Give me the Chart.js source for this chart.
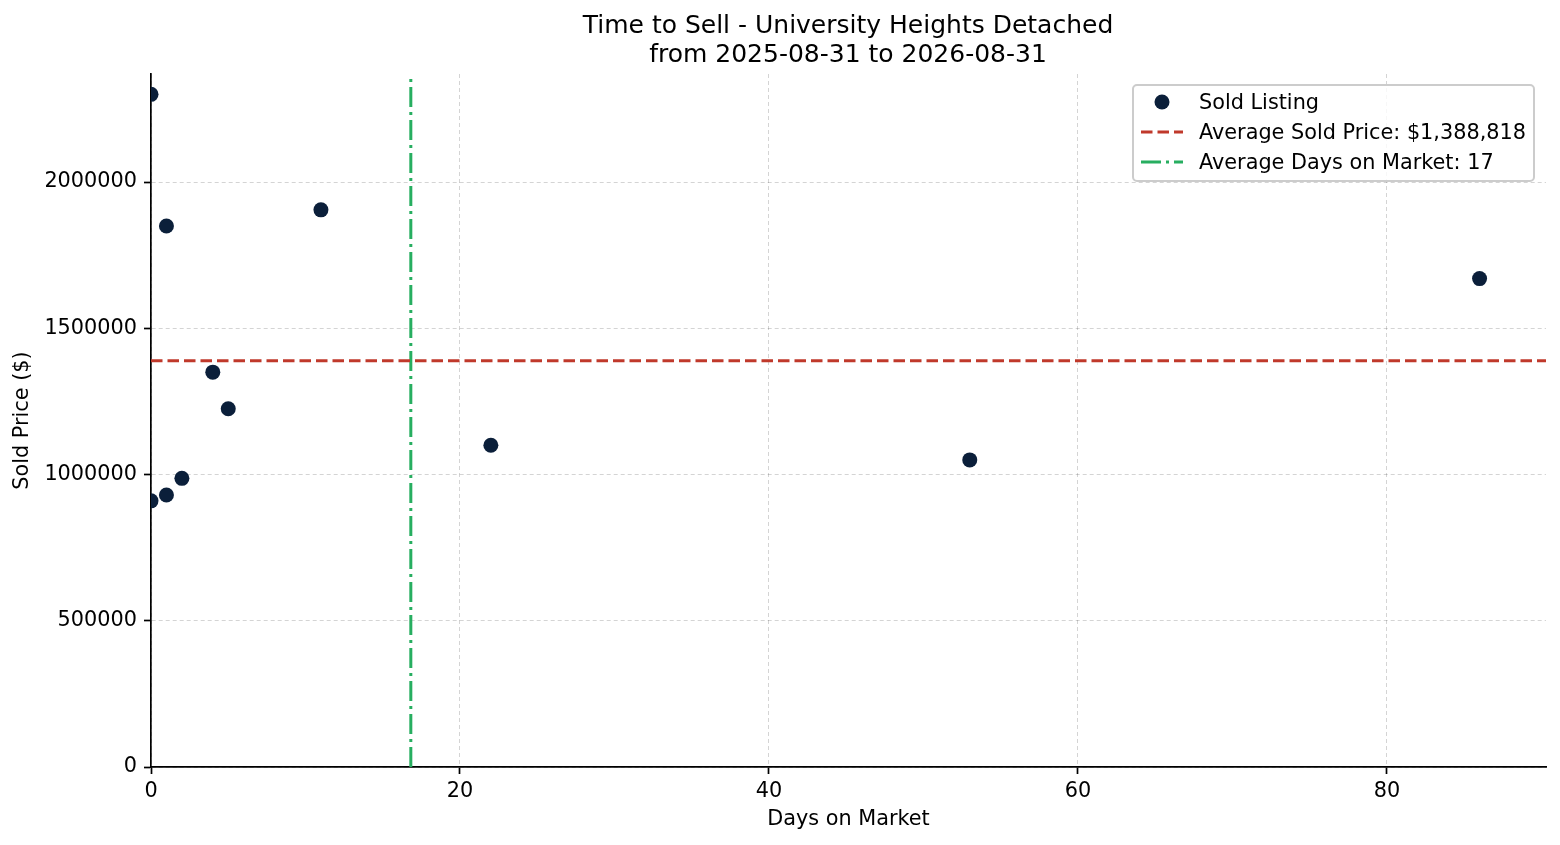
<!DOCTYPE html>
<html>
<head>
<meta charset="utf-8">
<script src="https://cdn.jsdelivr.net/npm/chart.js@4/dist/chart.umd.min.js"></script>
<style>
  html, body { margin: 0; padding: 0; background: #fff; }
  canvas { display: block; }
</style>
</head>
<body>
<canvas id="dom-chart" width="1560" height="845"></canvas>
<script>
// Days on market vs sold price, one entry per sold listing
const daysOnMarket = [0, 1, 11, 86, 4, 5, 22, 53, 2, 1, 0];
const soldPrices = [2300000, 1850000, 1905000, 1670000, 1350000, 1225000, 1100000, 1050000, 987000, 930000, 910000];

const titleLines = ['Time to Sell - University Heights Detached', 'from 2025-08-31 to 2026-08-31'];
const xTicks = [0, 20, 40, 60, 80];
const yTicks = [0, 500000, 1000000, 1500000, 2000000];
const xMax = 90.3;
const yMax = 2369500;

const avgPrice = soldPrices.reduce((a, b) => a + b, 0) / soldPrices.length;
const avgDays = daysOnMarket.reduce((a, b) => a + b, 0) / daysOnMarket.length;

const legendLabels = [
    'Sold Listing',
    'Average Sold Price: $' + Math.round(avgPrice).toLocaleString('en-US'),
    'Average Days on Market: ' + Math.round(avgDays)
];

const NAVY = '#0b1f3a';
const RED = '#c0392b';
const GREEN = '#27ae60';
const FONT = "'DejaVu Sans', sans-serif";

// title + legend drawn by hand so they sit where matplotlib put them
const decorations = {
    id: 'decorations',
    afterDraw(chart) {
        const c = chart.ctx;
        c.save();
        c.fillStyle = '#000';
        c.textAlign = 'center';
        c.textBaseline = 'middle';
        c.font = '25px ' + FONT;
        c.fillText(titleLines[0], 848, 26);
        c.fillText(titleLines[1], 848, 55);

        // legend box
        const bx = 1133, by = 85, bw = 401, bh = 96;
        c.beginPath();
        c.roundRect(bx, by, bw, bh, 4);
        c.fillStyle = 'rgba(255,255,255,0.8)';
        c.fill();
        c.lineWidth = 2;
        c.strokeStyle = '#cccccc';
        c.stroke();

        const rows = [102, 132, 162];
        // marker
        c.beginPath();
        c.arc(1162, rows[0], 7.5, 0, Math.PI * 2);
        c.fillStyle = NAVY;
        c.fill();
        // dashed red
        c.lineWidth = 3;
        c.strokeStyle = RED;
        c.setLineDash([11.5, 5]);
        c.beginPath();
        c.moveTo(1141, rows[1]);
        c.lineTo(1183, rows[1]);
        c.stroke();
        // dash-dot green
        c.strokeStyle = GREEN;
        c.setLineDash([20, 5, 3, 5]);
        c.beginPath();
        c.moveTo(1141, rows[2]);
        c.lineTo(1183, rows[2]);
        c.stroke();
        c.setLineDash([]);

        c.fillStyle = '#000';
        c.textAlign = 'left';
        c.font = '20.8px ' + FONT;
        legendLabels.forEach((t, i) => c.fillText(t, 1199, rows[i] + 2));
        c.restore();
    }
};

const gridOpts = {
    color: 'rgba(0,0,0,0.17)',
    lineWidth: 1,
    tickColor: '#000',
    tickLength: 7,
    tickWidth: 1.7,
    tickBorderDash: []
};

const ctx = document.getElementById('dom-chart').getContext('2d');
new Chart(ctx, {
    type: 'scatter',
    data: {
        datasets: [
            {
                label: legendLabels[0],
                data: daysOnMarket.map((d, i) => ({ x: d, y: soldPrices[i] })),
                backgroundColor: NAVY,
                borderColor: NAVY,
                pointRadius: 7.5,
                pointHoverRadius: 7.5,
                borderWidth: 0,
                clip: 0,
                order: 0
            },
            {
                label: legendLabels[1],
                type: 'line',
                data: [{ x: 0, y: avgPrice }, { x: xMax, y: avgPrice }],
                borderColor: RED,
                borderWidth: 3,
                borderDash: [11.5, 5],
                pointRadius: 0,
                order: 1
            },
            {
                label: legendLabels[2],
                type: 'line',
                data: [{ x: avgDays, y: 0 }, { x: avgDays, y: yMax }],
                borderColor: GREEN,
                borderWidth: 3,
                borderDash: [20, 5, 3, 5],
                pointRadius: 0,
                order: 1
            }
        ]
    },
    options: {
        responsive: false,
        animation: false,
        devicePixelRatio: 1,
        layout: { padding: { top: 74, right: 14, left: 0, bottom: 0 } },
        plugins: {
            legend: { display: false },
            title: { display: false },
            tooltip: { enabled: false }
        },
        scales: {
            x: {
                type: 'linear',
                min: 0,
                max: xMax,
                afterBuildTicks: s => { s.ticks = xTicks.map(v => ({ value: v })); },
                afterFit: s => { s.height = 78; },
                grid: gridOpts,
                border: { color: '#000', width: 1.7, dash: [4, 3] },
                ticks: { color: '#000', font: { family: FONT, size: 20.8 }, padding: 5, maxRotation: 0 },
                title: {
                    display: true,
                    text: 'Days on Market',
                    color: '#000',
                    font: { family: FONT, size: 20.8 },
                    padding: { top: 0, bottom: 13 }
                }
            },
            y: {
                type: 'linear',
                min: 0,
                max: yMax,
                afterBuildTicks: s => { s.ticks = yTicks.map(v => ({ value: v })); },
                afterFit: s => { s.width = 151; },
                grid: gridOpts,
                border: { color: '#000', width: 1.7, dash: [4, 3] },
                ticks: {
                    color: '#000',
                    font: { family: FONT, size: 20.8 },
                    padding: 7,
                    callback: v => String(v)
                },
                title: {
                    display: true,
                    text: 'Sold Price ($)',
                    color: '#000',
                    font: { family: FONT, size: 20.8 },
                    padding: { top: 10, bottom: 0 }
                }
            }
        }
    },
    plugins: [decorations]
});
</script>
</body>
</html>
